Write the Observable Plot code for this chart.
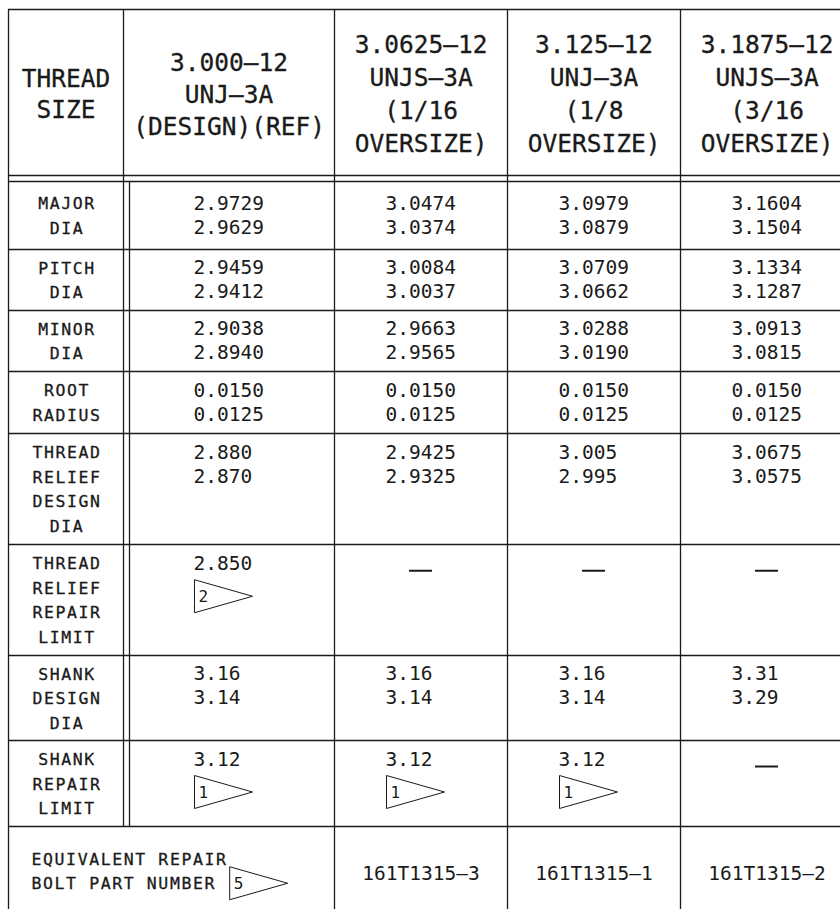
<!DOCTYPE html>
<html>
<head>
<meta charset="utf-8">
<script src="https://cdn.jsdelivr.net/npm/d3@7"></script>
<script src="https://cdn.jsdelivr.net/npm/@observablehq/plot@0.6"></script>
<style>
  html, body { margin: 0; padding: 0; background: #fff; }
  g[font-size="16.5"] text { letter-spacing: 1.6px; }
</style>
</head>
<body>
<div id="chart"></div>
<script>
// ---------- data ----------
const headers = [
  "THREAD\nSIZE",
  "3.000–12\nUNJ–3A\n(DESIGN)(REF)",
  "3.0625–12\nUNJS–3A\n(1/16\nOVERSIZE)",
  "3.125–12\nUNJ–3A\n(1/8\nOVERSIZE)",
  "3.1875–12\nUNJS–3A\n(3/16\nOVERSIZE)"
];
const rowLabels = [
  "MAJOR\nDIA", "PITCH\nDIA", "MINOR\nDIA", "ROOT\nRADIUS",
  "THREAD\nRELIEF\nDESIGN\nDIA", "THREAD\nRELIEF\nREPAIR\nLIMIT",
  "SHANK\nDESIGN\nDIA", "SHANK\nREPAIR\nLIMIT"
];
const designValues = [["2.9729","2.9629"],["2.9459","2.9412"],["2.9038","2.8940"],["0.0150","0.0125"],["2.880","2.870"],["2.850"],["3.16","3.14"],["3.12"]];
const oversize16Values = [["3.0474","3.0374"],["3.0084","3.0037"],["2.9663","2.9565"],["0.0150","0.0125"],["2.9425","2.9325"],[],["3.16","3.14"],["3.12"]];
const oversize8Values = [["3.0979","3.0879"],["3.0709","3.0662"],["3.0288","3.0190"],["0.0150","0.0125"],["3.005","2.995"],[],["3.16","3.14"],["3.12"]];
const oversize316Values = [["3.1604","3.1504"],["3.1334","3.1287"],["3.0913","3.0815"],["0.0150","0.0125"],["3.0675","3.0575"],[],["3.31","3.29"],[]];
const designNotes = [null,null,null,null,null,"2",null,"1"];
const oversize16Notes = [null,null,null,null,null,null,null,"1"];
const oversize8Notes = [null,null,null,null,null,null,null,"1"];
const oversize316Notes = [null,null,null,null,null,null,null,null];
const partLabel = "EQUIVALENT REPAIR\nBOLT PART NUMBER";
const partLabelNote = "5";
const partNumbers = ["161T1315–3", "161T1315–1", "161T1315–2"];

// ---------- layout ----------
const W = 840, H = 909;
const colEdges = [8, 123, 334, 507, 680, 853];
const innerX = 129;
const topY = 9, headY1 = 175, headY2 = 181;
const rowEdges = [181, 249, 310, 371, 433, 544, 655, 740, 826, 915];
const headCenter = 93;
const ink = "#1a1a1a";
const FONT = "DejaVu Sans Mono";

const colValues = [designValues, oversize16Values, oversize8Values, oversize316Values];
const colNotes = [designNotes, oversize16Notes, oversize8Notes, oversize316Notes];
const center = i => (colEdges[i] + colEdges[i + 1]) / 2;

// header lines
const headerText = [];
headers.forEach((h, i) => {
  const lines = h.split("\n");
  const s = i === 0 ? 31 : i === 1 ? 32 : 33;
  const first = headCenter - (lines.length - 1) * s / 2 + 9;
  lines.forEach((t, k) => headerText.push({x: center(i), y: first + k * s, t}));
});

// row labels and values
const labelText = [], valueText = [], dashes = [], flags = [], flagText = [];
const labelBase = [];
rowLabels.forEach((lab, r) => {
  const lines = lab.split("\n");
  const mid = (rowEdges[r] + rowEdges[r + 1]) / 2;
  const first = mid - (lines.length - 1) * 24.5 / 2 + 6;
  labelBase.push(first);
  lines.forEach((t, k) => labelText.push({x: center(0) + 1, y: first + k * 24.5, t}));
});
colValues.forEach((vals, c) => {
  const ci = c + 1;
  vals.forEach((v, r) => {
    const base = labelBase[r] + 0.5;
    const x0 = center(ci) - 35.5;
    if (v.length === 0) {
      dashes.push({x: center(ci), y: base + 1});
    } else {
      v.forEach((t, k) => valueText.push({x: x0, y: base + k * 24, t}));
    }
    const n = colNotes[c][r];
    if (n) {
      const fy = base + 10 + 16.5;
      flags.push({x: x0 + 1, y: fy});
      flagText.push({x: x0 + 5, y: fy + 6, t: n});
    }
  });
});

// bottom row
const pRow = 8;
const pMid = (rowEdges[pRow] + rowEdges[pRow + 1]) / 2;
const pLines = partLabel.split("\n");
const pFirst = pMid - (pLines.length - 1) * 24.5 / 2 + 6;
const partLabelText = pLines.map((t, k) => ({x: 31, y: pFirst + k * 24.5, t}));
const pFlagX = 31 + (pLines[1].length + 1) * 11.6 + 1;
flags.push({x: pFlagX, y: pFirst + 24.5 - 6});
flagText.push({x: pFlagX + 4, y: pFirst + 24.5 - 6 + 6, t: partLabelNote});
const partText = partNumbers.map((t, i) => ({x: center(i + 2), y: pMid + 8.5, t}));

// rules
const hLines = [topY, headY1, headY2, ...rowEdges.slice(1, 9)].map(y => ({y, x1: colEdges[0], x2: W}));
const vLines = [
  {x: colEdges[0], y1: topY, y2: H},
  {x: colEdges[1], y1: topY, y2: rowEdges[8]},
  {x: innerX, y1: headY2, y2: rowEdges[8]},
  {x: colEdges[2], y1: topY, y2: H},
  {x: colEdges[3], y1: topY, y2: H},
  {x: colEdges[4], y1: topY, y2: H}
];

const flagSymbol = {
  draw(ctx) {
    ctx.moveTo(0, -16.5);
    ctx.lineTo(58, 0);
    ctx.lineTo(0, 16.5);
    ctx.closePath();
  }
};

const labelStyle = {fontFamily: FONT, fontSize: 16.5, fill: "#1a1a1a", stroke: "#1a1a1a", strokeWidth: 0.3, lineAnchor: "bottom"};

const plot = Plot.plot({
  width: W, height: H, margin: 0,
  x: {domain: [0, W], range: [0, W], axis: null},
  y: {domain: [0, H], range: [0, H], axis: null},
  style: {background: "#fff"},
  marks: [
    Plot.ruleY(hLines, {y: "y", x1: "x1", x2: "x2", stroke: ink, strokeWidth: 1.3}),
    Plot.ruleX(vLines, {x: "x", y1: "y1", y2: "y2", stroke: ink, strokeWidth: 1.3}),
    Plot.text(headerText, {x: "x", y: "y", text: "t", fontFamily: FONT, fontSize: 24.5, fill: ink, stroke: ink, strokeWidth: 0.3, lineAnchor: "bottom", textAnchor: "middle"}),
    Plot.text(labelText, {x: "x", y: "y", text: "t", ...labelStyle, textAnchor: "middle"}),
    Plot.text(partLabelText, {x: "x", y: "y", text: "t", ...labelStyle, textAnchor: "start"}),
    Plot.text(valueText, {x: "x", y: "y", text: "t", fontFamily: FONT, fontSize: 19.5, fill: ink, lineAnchor: "bottom", textAnchor: "start"}),
    Plot.text(partText, {x: "x", y: "y", text: "t", fontFamily: FONT, fontSize: 19.5, fill: ink, lineAnchor: "bottom", textAnchor: "middle"}),
    Plot.ruleY(dashes, {y: "y", x1: d => d.x - 11.5, x2: d => d.x + 11.5, stroke: ink, strokeWidth: 2}),
    Plot.dot(flags, {x: "x", y: "y", symbol: flagSymbol, fill: "none", stroke: ink, strokeWidth: 1}),
    Plot.text(flagText, {x: "x", y: "y", text: "t", fontFamily: FONT, fontSize: 16, fill: ink, lineAnchor: "bottom", textAnchor: "start"})
  ]
});
document.getElementById("chart").appendChild(plot);
</script>
</body>
</html>
